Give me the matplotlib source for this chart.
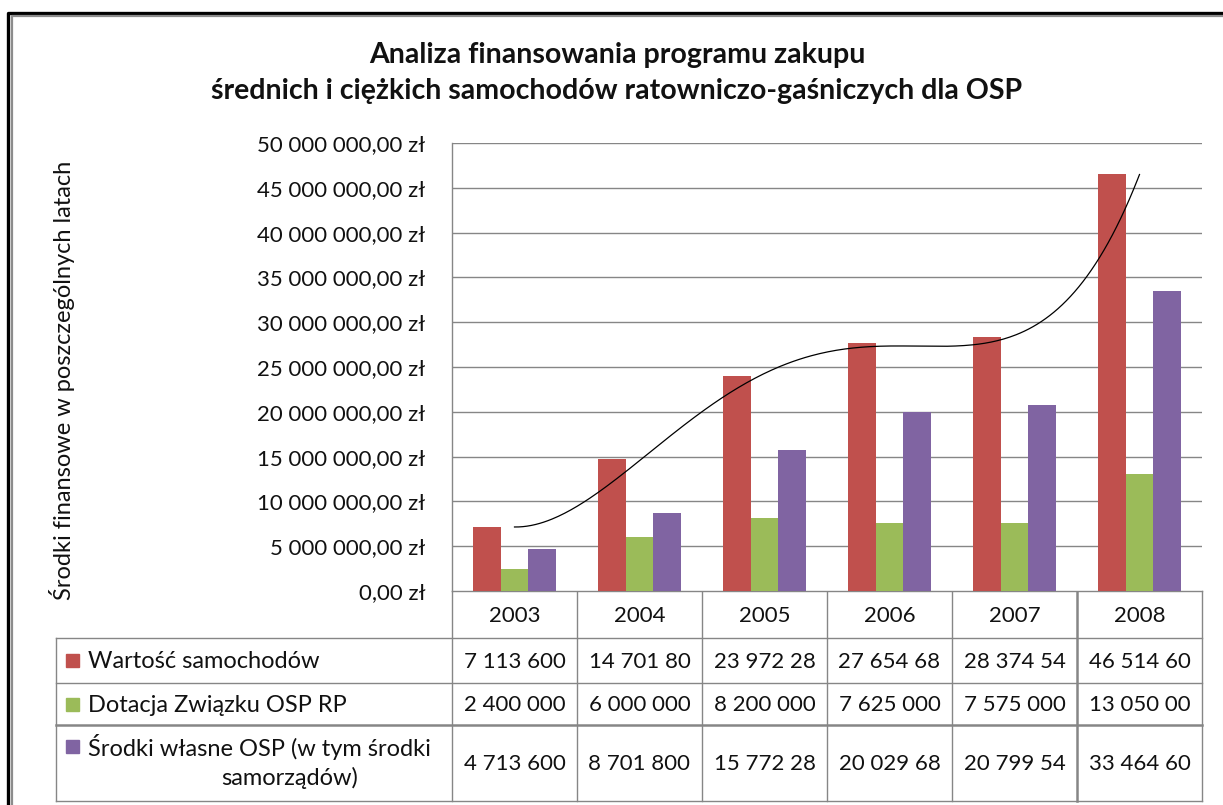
import numpy as np
import matplotlib
matplotlib.use("Agg")
import matplotlib.pyplot as plt
from matplotlib.patches import Rectangle
from matplotlib.ticker import FuncFormatter, MultipleLocator

plt.rcParams["font.family"] = ["Lato", "DejaVu Sans"]

# ── Data ──────────────────────────────────────────────────────────────────────
YEARS = ["2003", "2004", "2005", "2006", "2007", "2008"]
WARTOSC = [7113600, 14701800, 23972280, 27654680, 28374540, 46514600]
DOTACJA = [2400000, 6000000, 8200000, 7625000, 7575000, 13050000]
SRODKI = [4713600, 8701800, 15772280, 20029680, 20799540, 33464600]
SERIES = ["Wartość samochodów", "Dotacja Związku OSP RP",
          "Środki własne OSP (w tym środki", "samorządów)"]
COLORS = ["#C0504D", "#9BBB59", "#8064A2"]
TITLE = ("Analiza finansowania programu zakupu\n"
         "średnich i ciężkich samochodów ratowniczo-gaśniczych dla OSP")
YLABEL = "Środki finansowe w poszczególnych latach"

# ── Layout (pixels) ───────────────────────────────────────────────────────────
W, H = 1223, 805
PL, PR, PT, PB = 452, 1202, 143, 591      # plot area
ROWS = [591, 638, 683, 725, 801]          # table row borders
TL = 56                                   # table left edge
GRID = "#868686"
TXT = "#111111"


def zl(v, pos=None):
    return f"{v:,.2f}".replace(",", " ").replace(".", ",") + " zł"


def cell(v):
    # Excel clips the number to the cell width
    return f"{v:,.0f}".replace(",", " ")[:9]


fig = plt.figure(figsize=(W / 100, H / 100), dpi=100)

# overlay in pixel coordinates for frame, table and labels
ov = fig.add_axes([0, 0, 1, 1])
ov.set_xlim(0, W)
ov.set_ylim(H, 0)
ov.axis("off")

# outer frame (double line)
ov.plot([8, 8, W], [H, 13, 13], color="black", lw=2.4, solid_capstyle="butt")
ov.plot([11.5, 11.5, W], [H, 16, 16], color="#8c8c8c", lw=1.6,
        solid_capstyle="butt")

# ── Chart ─────────────────────────────────────────────────────────────────────
ax = fig.add_axes([PL / W, 1 - PB / H, (PR - PL) / W, (PB - PT) / H])
n = len(YEARS)
x = np.arange(n) + 0.5
bw = 0.2235
for i, (vals, col) in enumerate(zip([WARTOSC, DOTACJA, SRODKI], COLORS)):
    ax.bar(x + (i - 1) * bw, vals, width=bw, color=col, zorder=2)

# polynomial trendline on the first series
coef = np.polyfit(np.arange(1, n + 1), WARTOSC, 4)
xs = np.linspace(1, n, 300)
ax.plot(xs - 0.5, np.polyval(coef, xs), color="black", lw=0.9, zorder=3)

ax.set_xlim(0, n)
ax.set_ylim(0, 50_000_000)
ax.yaxis.set_major_locator(MultipleLocator(5_000_000))
ax.yaxis.set_major_formatter(FuncFormatter(zl))
ax.tick_params(axis="y", length=0, pad=19, labelsize=16, labelcolor=TXT)
ax.set_xticks([])
ax.grid(axis="y", color=GRID, lw=1, zorder=0)
for s in ["top", "right", "bottom"]:
    ax.spines[s].set_visible(False)
ax.spines["left"].set_color(GRID)
ax.spines["left"].set_linewidth(1)
ax.set_axisbelow(True)

# title and axis label
ov.text(617, 73, TITLE, ha="center", va="center", fontsize=20.5,
        fontweight="bold", linespacing=1.45, color=TXT)
ov.text(62, 380, YLABEL, ha="center", va="center", rotation=90,
        fontsize=17, color=TXT)

# ── Data table ────────────────────────────────────────────────────────────────
cw = (PR - PL) / n
for i in range(n + 1):
    xv = PL + i * cw
    ov.plot([xv, xv], [ROWS[0], ROWS[-1]], color=GRID,
            lw=1.8 if i == n - 1 else 1)
ov.plot([PL, PR], [ROWS[0], ROWS[0]], color=GRID, lw=1)
for j, yv in enumerate(ROWS[1:]):
    ov.plot([TL, PR], [yv, yv], color=GRID, lw=1.8 if j == 2 else 1)
ov.plot([TL, TL], [ROWS[1], ROWS[-1]], color=GRID, lw=1)

for i, yr in enumerate(YEARS):
    ov.text(PL + (i + 0.5) * cw, (ROWS[0] + ROWS[1]) / 2 + 1, yr,
            ha="center", va="center", fontsize=16, color=TXT)

for r, (col, vals) in enumerate(zip(COLORS, [WARTOSC, DOTACJA, SRODKI])):
    y0, y1 = ROWS[r + 1], ROWS[r + 2]
    yc = (y0 + y1) / 2
    if r < 2:
        ov.add_patch(Rectangle((66, yc - 6.5), 13, 13, color=col))
        ov.text(88, yc + 1, SERIES[r], ha="left", va="center", fontsize=17,
                color=TXT)
    else:
        ov.add_patch(Rectangle((66, 740), 13, 13, color=col))
        ov.text(88, 747, SERIES[2], ha="left", va="center", fontsize=17,
                color=TXT)
        ov.text(290, 778, SERIES[3], ha="center", va="center", fontsize=17,
                color=TXT)
    for i, v in enumerate(vals):
        ov.text(PL + (i + 0.5) * cw, yc + 1, cell(v), ha="center",
                va="center", fontsize=16, color=TXT)

fig.savefig("out.png", dpi=100)
